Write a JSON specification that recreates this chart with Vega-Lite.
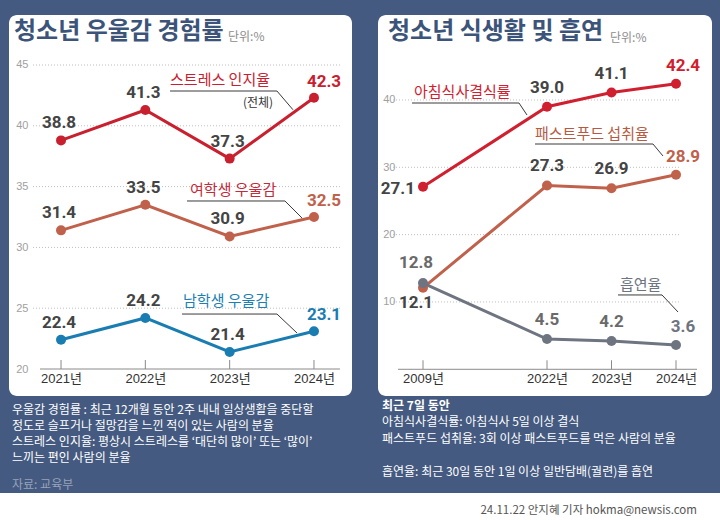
{
  "$schema": "https://vega.github.io/schema/vega-lite/v6.json",
  "background": "#455A80",
  "padding": {"left": 0, "top": 12, "right": 0, "bottom": 0},
  "config": {"view": {"stroke": null}, "font": "Noto Sans CJK KR", "concat": {"spacing": 0}},
  "datasets": {
    "dep": [
      {"series": "스트레스 인지율", "year": 2021, "value": 38.8},
      {"series": "스트레스 인지율", "year": 2022, "value": 41.3},
      {"series": "스트레스 인지율", "year": 2023, "value": 37.3},
      {"series": "스트레스 인지율", "year": 2024, "value": 42.3},
      {"series": "여학생 우울감", "year": 2021, "value": 31.4},
      {"series": "여학생 우울감", "year": 2022, "value": 33.5},
      {"series": "여학생 우울감", "year": 2023, "value": 30.9},
      {"series": "여학생 우울감", "year": 2024, "value": 32.5},
      {"series": "남학생 우울감", "year": 2021, "value": 22.4},
      {"series": "남학생 우울감", "year": 2022, "value": 24.2},
      {"series": "남학생 우울감", "year": 2023, "value": 21.4},
      {"series": "남학생 우울감", "year": 2024, "value": 23.1}
    ],
    "depAnn": [
      {"kind": "series", "series": "스트레스 인지율", "txt": "스트레스 인지율", "ax": 2022.293, "ay": 43.77},
      {"kind": "series", "series": "여학생 우울감", "txt": "여학생 우울감", "ax": 2022.53, "ay": 34.72},
      {"kind": "series", "series": "남학생 우울감", "txt": "남학생 우울감", "ax": 2022.447, "ay": 25.59},
      {"kind": "sub", "series": "스트레스 인지율", "txt": "(전체)", "ax": 2023.158, "ay": 41.875},
      {"kind": "unit", "series": "", "txt": "단위:%", "ax": 2022.98, "ay": 47.3}
    ],
    "depLead": [
      {"series": "스트레스 인지율", "seq": 1, "ax": 2022.293, "ay": 42.86},
      {"series": "스트레스 인지율", "seq": 2, "ax": 2023.561, "ay": 42.86},
      {"series": "스트레스 인지율", "seq": 3, "ax": 2023.751, "ay": 41.32},
      {"series": "여학생 우울감", "seq": 1, "ax": 2022.494, "ay": 33.816},
      {"series": "여학생 우울감", "seq": 2, "ax": 2023.656, "ay": 33.816},
      {"series": "여학생 우울감", "seq": 3, "ax": 2023.858, "ay": 32.418},
      {"series": "남학생 우울감", "seq": 1, "ax": 2022.435, "ay": 24.52},
      {"series": "남학생 우울감", "seq": 2, "ax": 2023.561, "ay": 24.52},
      {"series": "남학생 우울감", "seq": 3, "ax": 2023.799, "ay": 22.96}
    ],
    "diet": [
      {"series": "아침식사결식률", "year": 2009, "value": 27.1},
      {"series": "아침식사결식률", "year": 2022, "value": 39.0},
      {"series": "아침식사결식률", "year": 2023, "value": 41.1},
      {"series": "아침식사결식률", "year": 2024, "value": 42.4},
      {"series": "패스트푸드 섭취율", "year": 2009, "value": 12.1},
      {"series": "패스트푸드 섭취율", "year": 2022, "value": 27.3},
      {"series": "패스트푸드 섭취율", "year": 2023, "value": 26.9},
      {"series": "패스트푸드 섭취율", "year": 2024, "value": 28.9},
      {"series": "흡연율", "year": 2009, "value": 12.8},
      {"series": "흡연율", "year": 2022, "value": 4.5},
      {"series": "흡연율", "year": 2023, "value": 4.2},
      {"series": "흡연율", "year": 2024, "value": 3.6}
    ],
    "dietAnn": [
      {"kind": "series", "series": "아침식사결식률", "txt": "아침식사결식률", "ax": 2008.056, "ay": 41.18},
      {"kind": "series", "series": "패스트푸드 섭취율", "txt": "패스트푸드 섭취율", "ax": 2020.742, "ay": 34.95},
      {"kind": "series", "series": "흡연율", "txt": "흡연율", "ax": 2023.132, "ay": 12.59},
      {"kind": "unit", "series": "", "txt": "단위:%", "ax": 2022.977, "ay": 49.2}
    ],
    "dietLead": [
      {"series": "아침식사결식률", "seq": 1, "ax": 2007.846, "ay": 39.55},
      {"series": "아침식사결식률", "seq": 2, "ax": 2019.064, "ay": 39.55},
      {"series": "아침식사결식률", "seq": 3, "ax": 2019.903, "ay": 37.77},
      {"series": "패스트푸드 섭취율", "seq": 1, "ax": 2020.742, "ay": 33.46},
      {"series": "패스트푸드 섭취율", "seq": 2, "ax": 2023.643, "ay": 33.46},
      {"series": "패스트푸드 섭취율", "seq": 3, "ax": 2023.798, "ay": 31.68},
      {"series": "흡연율", "seq": 1, "ax": 2023.101, "ay": 11.04},
      {"series": "흡연율", "seq": 2, "ax": 2023.783, "ay": 11.04},
      {"series": "흡연율", "seq": 3, "ax": 2024.031, "ay": 8.51}
    ],
    "notesL": [
      {"line": 1, "kind": "body", "txt": "우울감 경험률 : 최근 12개월 동안 2주 내내 일상생활을 중단할"},
      {"line": 2, "kind": "body", "txt": "정도로 슬프거나 절망감을 느낀 적이 있는 사람의 분율"},
      {"line": 3, "kind": "body", "txt": "스트레스 인지율: 평상시 스트레스를 ‘대단히 많이’ 또는 ‘많이’"},
      {"line": 4, "kind": "body", "txt": "느끼는 편인 사람의 분율"},
      {"line": 5.7, "kind": "source", "txt": "자료: 교육부"}
    ],
    "notesR": [
      {"line": 1, "kind": "head", "txt": "최근 7일 동안"},
      {"line": 2, "kind": "body", "txt": "아침식사결식률: 아침식사 5일 이상 결식"},
      {"line": 3, "kind": "body", "txt": "패스트푸드 섭취율: 3회 이상 패스트푸드를 먹은 사람의 분율"},
      {"line": 5, "kind": "body", "txt": "흡연율: 최근 30일 동안 1일 이상 일반담배(궐련)를 흡연"}
    ]
  },
  "spacing": 0,
  "vconcat": [
    {
      "spacing": 0,
      "bounds": "flush",
      "hconcat": [
        {"width": 9, "height": 1, "data": {"values": [{}]}, "mark": {"type": "point", "opacity": 0}},
        {
          "width": 343,
          "height": 381,
          "view": {"fill": "white", "stroke": null, "cornerRadius": 8},
          "title": {"text": "청소년 우울감 경험률", "anchor": "start", "frame": "group", "offset": -29, "dx": 5, "fontSize": 24, "fontWeight": "bold", "color": "#3C5479", "font": "Noto Sans CJK KR"},
          "layer": [
            {
              "data": {"values": [{"tick": 25}, {"tick": 30}, {"tick": 35}, {"tick": 40}, {"tick": 45}]},
              "mark": {"type": "rule", "color": "#BDBDBD", "strokeWidth": 1, "strokeDash": [1, 2]},
              "encoding": {
                "y": {"field": "tick", "type": "quantitative", "scale": {"domain": [17.78, 49.11], "nice": false, "zero": false}},
                "x": {"datum": 2020.668, "type": "quantitative", "scale": {"domain": [2020.383, 2024.451], "nice": false, "zero": false}},
                "x2": {"datum": 2024.308}
              }
            },
            {
              "data": {"values": [{"tick": 20}]},
              "mark": {"type": "rule", "color": "#8A8A8A", "strokeWidth": 1},
              "encoding": {
                "y": {"field": "tick", "type": "quantitative", "scale": {"domain": [17.78, 49.11], "nice": false, "zero": false}},
                "x": {"datum": 2020.751, "type": "quantitative", "scale": {"domain": [2020.383, 2024.451], "nice": false, "zero": false}},
                "x2": {"datum": 2024.308}
              }
            },
            {
              "data": {"values": [{"year": 2021}, {"year": 2022}, {"year": 2023}, {"year": 2024}]},
              "mark": {"type": "rule", "color": "#8A8A8A", "strokeWidth": 1},
              "encoding": {
                "x": {"field": "year", "type": "quantitative", "scale": {"domain": [2020.383, 2024.451], "nice": false, "zero": false}},
                "y": {"datum": 20, "type": "quantitative", "scale": {"domain": [17.78, 49.11], "nice": false, "zero": false}},
                "y2": {"datum": 20.74}
              }
            },
            {
              "data": {"name": "depLead"},
              "mark": {"type": "line", "color": "#3A3A3A", "strokeWidth": 1},
              "encoding": {
                "x": {"field": "ax", "type": "quantitative", "scale": {"domain": [2020.383, 2024.451], "nice": false, "zero": false}},
                "y": {"field": "ay", "type": "quantitative", "scale": {"domain": [17.78, 49.11], "nice": false, "zero": false}},
                "detail": {"field": "series"},
                "order": {"field": "seq"}
              }
            },
            {
              "data": {"name": "dep"},
              "mark": {"type": "line", "strokeWidth": 3},
              "encoding": {
                "x": {"field": "year", "type": "quantitative", "scale": {"domain": [2020.383, 2024.451], "nice": false, "zero": false},
                  "axis": {"values": [2021, 2022, 2023, 2024], "labelExpr": "datum.value + '년'", "offset": -27, "domain": false, "ticks": false, "grid": false, "labelPadding": 3, "labelFontSize": 13, "labelColor": "#333333", "labelFont": "Liberation Sans, Noto Sans CJK KR", "labelFlush": false, "labelOverlap": false, "title": null}},
                "y": {"field": "value", "type": "quantitative", "scale": {"domain": [17.78, 49.11], "nice": false, "zero": false},
                  "axis": {"values": [20, 25, 30, 35, 40, 45], "offset": -21, "domain": false, "ticks": false, "grid": false, "labelPadding": 2, "labelFontSize": 11, "labelColor": "#A0A0A0", "labelFont": "Liberation Sans", "labelFlush": false, "labelOverlap": false, "title": null}},
                "color": {"field": "series", "type": "nominal", "scale": {"domain": ["스트레스 인지율", "여학생 우울감", "남학생 우울감", "아침식사결식률", "패스트푸드 섭취율", "흡연율"], "range": ["#C8202F", "#C0614B", "#1A7DB2", "#D02030", "#C0614B", "#6E7480"]}, "legend": null}
              }
            },
            {
              "data": {"name": "dep"},
              "mark": {"type": "circle", "size": 100, "opacity": 1},
              "encoding": {
                "x": {"field": "year", "type": "quantitative", "scale": {"domain": [2020.383, 2024.451], "nice": false, "zero": false}},
                "y": {"field": "value", "type": "quantitative", "scale": {"domain": [17.78, 49.11], "nice": false, "zero": false}},
                "color": {"field": "series", "type": "nominal", "scale": {"domain": ["스트레스 인지율", "여학생 우울감", "남학생 우울감", "아침식사결식률", "패스트푸드 섭취율", "흡연율"], "range": ["#C8202F", "#C0614B", "#1A7DB2", "#D02030", "#C0614B", "#6E7480"]}, "legend": null}
              }
            },
            {
              "data": {"name": "dep"},
              "transform": [{"filter": "datum.year < 2024"}],
              "mark": {"type": "text", "dx": -2, "dy": -17, "fontSize": 17, "fontWeight": "bold", "font": "Roboto", "color": "#444444", "baseline": "middle"},
              "encoding": {
                "x": {"field": "year", "type": "quantitative", "scale": {"domain": [2020.383, 2024.451], "nice": false, "zero": false}},
                "y": {"field": "value", "type": "quantitative", "scale": {"domain": [17.78, 49.11], "nice": false, "zero": false}},
                "text": {"field": "value", "type": "quantitative", "format": ".1f"}
              }
            },
            {
              "data": {"name": "dep"},
              "transform": [{"filter": "datum.year == 2024"}],
              "mark": {"type": "text", "dx": 10, "dy": -16, "fontSize": 17, "fontWeight": "bold", "font": "Roboto", "baseline": "middle"},
              "encoding": {
                "x": {"field": "year", "type": "quantitative", "scale": {"domain": [2020.383, 2024.451], "nice": false, "zero": false}},
                "y": {"field": "value", "type": "quantitative", "scale": {"domain": [17.78, 49.11], "nice": false, "zero": false}},
                "text": {"field": "value", "type": "quantitative", "format": ".1f"},
                "color": {"field": "series", "type": "nominal", "scale": {"domain": ["스트레스 인지율", "여학생 우울감", "남학생 우울감", "아침식사결식률", "패스트푸드 섭취율", "흡연율"], "range": ["#C8202F", "#C0614B", "#1A7DB2", "#D02030", "#C0614B", "#6E7480"]}, "legend": null}
              }
            },
            {
              "data": {"name": "depAnn"},
              "transform": [{"filter": "datum.kind == 'series'"}],
              "mark": {"type": "text", "align": "left", "baseline": "middle", "fontSize": 15, "font": "Noto Sans CJK KR"},
              "encoding": {
                "x": {"field": "ax", "type": "quantitative", "scale": {"domain": [2020.383, 2024.451], "nice": false, "zero": false}},
                "y": {"field": "ay", "type": "quantitative", "scale": {"domain": [17.78, 49.11], "nice": false, "zero": false}},
                "text": {"field": "txt"},
                "fill": {"field": "series", "type": "nominal", "scale": {"domain": ["스트레스 인지율", "여학생 우울감", "남학생 우울감", "아침식사결식률", "패스트푸드 섭취율", "흡연율"], "range": ["#C8202F", "#C32A3C", "#1C80B4", "#D22030", "#B65A42", "#6E7480"]}, "legend": null}
              }
            },
            {
              "data": {"name": "depAnn"},
              "transform": [{"filter": "datum.kind != 'series'"}],
              "mark": {"type": "text", "align": "left", "baseline": "middle", "fontSize": 12, "font": "Noto Sans CJK KR"},
              "encoding": {
                "x": {"field": "ax", "type": "quantitative", "scale": {"domain": [2020.383, 2024.451], "nice": false, "zero": false}},
                "y": {"field": "ay", "type": "quantitative", "scale": {"domain": [17.78, 49.11], "nice": false, "zero": false}},
                "text": {"field": "txt"},
                "color": {"condition": {"test": "datum.kind == 'unit'", "value": "#8C8C8C"}, "value": "#333333"}
              }
            }
          ]
        },
        {"width": 26, "height": 1, "data": {"values": [{}]}, "mark": {"type": "point", "opacity": 0}},
        {
          "width": 334,
          "height": 381,
          "view": {"fill": "white", "stroke": null, "cornerRadius": 8},
          "title": {"text": "청소년 식생활 및 흡연", "anchor": "start", "frame": "group", "offset": -29, "dx": 10, "fontSize": 24, "fontWeight": "bold", "color": "#3C5479", "font": "Noto Sans CJK KR"},
          "layer": [
            {
              "data": {"values": [{"tick": 10}, {"tick": 20}, {"tick": 30}, {"tick": 40}]},
              "mark": {"type": "rule", "color": "#BDBDBD", "strokeWidth": 1, "strokeDash": [1, 2]},
              "encoding": {
                "y": {"field": "tick", "type": "quantitative", "scale": {"domain": [-3.966, 52.62], "nice": false, "zero": false}},
                "x": {"datum": 2005.854, "type": "quantitative", "scale": {"domain": [2004.282, 2022, 2024.558], "range": [0, 169, 334], "nice": false, "zero": false}},
                "x2": {"datum": 2024.062}
              }
            },
            {
              "data": {"values": [{"tick": 0}]},
              "mark": {"type": "rule", "color": "#8A8A8A", "strokeWidth": 1},
              "encoding": {
                "y": {"field": "tick", "type": "quantitative", "scale": {"domain": [-3.966, 52.62], "nice": false, "zero": false}},
                "x": {"datum": 2006.378, "type": "quantitative", "scale": {"domain": [2004.282, 2022, 2024.558], "range": [0, 169, 334], "nice": false, "zero": false}},
                "x2": {"datum": 2024.326}
              }
            },
            {
              "data": {"values": [{"year": 2009}, {"year": 2022}, {"year": 2023}, {"year": 2024}]},
              "mark": {"type": "rule", "color": "#8A8A8A", "strokeWidth": 1},
              "encoding": {
                "x": {"field": "year", "type": "quantitative", "scale": {"domain": [2004.282, 2022, 2024.558], "range": [0, 169, 334], "nice": false, "zero": false}},
                "y": {"datum": 0, "type": "quantitative", "scale": {"domain": [-3.966, 52.62], "nice": false, "zero": false}},
                "y2": {"datum": 1.34}
              }
            },
            {
              "data": {"name": "dietLead"},
              "mark": {"type": "line", "color": "#3A3A3A", "strokeWidth": 1},
              "encoding": {
                "x": {"field": "ax", "type": "quantitative", "scale": {"domain": [2004.282, 2022, 2024.558], "range": [0, 169, 334], "nice": false, "zero": false}},
                "y": {"field": "ay", "type": "quantitative", "scale": {"domain": [-3.966, 52.62], "nice": false, "zero": false}},
                "detail": {"field": "series"},
                "order": {"field": "seq"}
              }
            },
            {
              "data": {"name": "diet"},
              "mark": {"type": "line", "strokeWidth": 3},
              "encoding": {
                "x": {"field": "year", "type": "quantitative", "scale": {"domain": [2004.282, 2022, 2024.558], "range": [0, 169, 334], "nice": false, "zero": false},
                  "axis": {"values": [2009, 2022, 2023, 2024], "labelExpr": "datum.value + '년'", "offset": -27, "domain": false, "ticks": false, "grid": false, "labelPadding": 3, "labelFontSize": 13, "labelColor": "#333333", "labelFont": "Liberation Sans, Noto Sans CJK KR", "labelFlush": false, "labelOverlap": false, "title": null}},
                "y": {"field": "value", "type": "quantitative", "scale": {"domain": [-3.966, 52.62], "nice": false, "zero": false},
                  "axis": {"values": [10, 20, 30, 40], "offset": -19, "domain": false, "ticks": false, "grid": false, "labelPadding": 2, "labelFontSize": 11, "labelColor": "#A0A0A0", "labelFont": "Liberation Sans", "labelFlush": false, "labelOverlap": false, "title": null}},
                "color": {"field": "series", "type": "nominal", "scale": {"domain": ["스트레스 인지율", "여학생 우울감", "남학생 우울감", "아침식사결식률", "패스트푸드 섭취율", "흡연율"], "range": ["#C8202F", "#C0614B", "#1A7DB2", "#D02030", "#C0614B", "#6E7480"]}, "legend": null}
              }
            },
            {
              "data": {"name": "diet"},
              "mark": {"type": "circle", "size": 100, "opacity": 1},
              "encoding": {
                "x": {"field": "year", "type": "quantitative", "scale": {"domain": [2004.282, 2022, 2024.558], "range": [0, 169, 334], "nice": false, "zero": false}},
                "y": {"field": "value", "type": "quantitative", "scale": {"domain": [-3.966, 52.62], "nice": false, "zero": false}},
                "color": {"field": "series", "type": "nominal", "scale": {"domain": ["스트레스 인지율", "여학생 우울감", "남학생 우울감", "아침식사결식률", "패스트푸드 섭취율", "흡연율"], "range": ["#C8202F", "#C0614B", "#1A7DB2", "#D02030", "#C0614B", "#6E7480"]}, "legend": null}
              }
            },
            {
              "data": {"name": "diet"},
              "transform": [{"filter": "datum.year == 2022 || datum.year == 2023"}],
              "mark": {"type": "text", "dy": -19, "fontSize": 17, "fontWeight": "bold", "font": "Roboto", "baseline": "middle"},
              "encoding": {
                "x": {"field": "year", "type": "quantitative", "scale": {"domain": [2004.282, 2022, 2024.558], "range": [0, 169, 334], "nice": false, "zero": false}},
                "y": {"field": "value", "type": "quantitative", "scale": {"domain": [-3.966, 52.62], "nice": false, "zero": false}},
                "text": {"field": "value", "type": "quantitative", "format": ".1f"},
                "color": {"condition": {"test": "datum.series == '흡연율'", "value": "#6A6A6A"}, "value": "#444444"}
              }
            },
            {
              "data": {"name": "diet"},
              "transform": [{"filter": "datum.year == 2024"}],
              "mark": {"type": "text", "dx": 7, "dy": -18, "fontSize": 17, "fontWeight": "bold", "font": "Roboto", "baseline": "middle"},
              "encoding": {
                "x": {"field": "year", "type": "quantitative", "scale": {"domain": [2004.282, 2022, 2024.558], "range": [0, 169, 334], "nice": false, "zero": false}},
                "y": {"field": "value", "type": "quantitative", "scale": {"domain": [-3.966, 52.62], "nice": false, "zero": false}},
                "text": {"field": "value", "type": "quantitative", "format": ".1f"},
                "color": {"field": "series", "type": "nominal", "scale": {"domain": ["스트레스 인지율", "여학생 우울감", "남학생 우울감", "아침식사결식률", "패스트푸드 섭취율", "흡연율"], "range": ["#C8202F", "#C0614B", "#1A7DB2", "#D02030", "#C0614B", "#6E7480"]}, "legend": null}
              }
            },
            {
              "data": {"name": "diet"},
              "transform": [{"filter": "datum.year == 2009 && datum.series == '아침식사결식률'"}],
              "mark": {"type": "text", "align": "right", "dx": -8, "dy": 2, "fontSize": 17, "fontWeight": "bold", "font": "Roboto", "baseline": "middle", "color": "#444444"},
              "encoding": {
                "x": {"field": "year", "type": "quantitative", "scale": {"domain": [2004.282, 2022, 2024.558], "range": [0, 169, 334], "nice": false, "zero": false}},
                "y": {"field": "value", "type": "quantitative", "scale": {"domain": [-3.966, 52.62], "nice": false, "zero": false}},
                "text": {"field": "value", "type": "quantitative", "format": ".1f"}
              }
            },
            {
              "data": {"name": "diet"},
              "transform": [{"filter": "datum.year == 2009 && datum.series == '패스트푸드 섭취율'"}],
              "mark": {"type": "text", "dx": -7, "dy": 15, "fontSize": 17, "fontWeight": "bold", "font": "Roboto", "baseline": "middle", "color": "#444444"},
              "encoding": {
                "x": {"field": "year", "type": "quantitative", "scale": {"domain": [2004.282, 2022, 2024.558], "range": [0, 169, 334], "nice": false, "zero": false}},
                "y": {"field": "value", "type": "quantitative", "scale": {"domain": [-3.966, 52.62], "nice": false, "zero": false}},
                "text": {"field": "value", "type": "quantitative", "format": ".1f"}
              }
            },
            {
              "data": {"name": "diet"},
              "transform": [{"filter": "datum.year == 2009 && datum.series == '흡연율'"}],
              "mark": {"type": "text", "dx": -7, "dy": -20, "fontSize": 17, "fontWeight": "bold", "font": "Roboto", "baseline": "middle", "color": "#6A6A6A"},
              "encoding": {
                "x": {"field": "year", "type": "quantitative", "scale": {"domain": [2004.282, 2022, 2024.558], "range": [0, 169, 334], "nice": false, "zero": false}},
                "y": {"field": "value", "type": "quantitative", "scale": {"domain": [-3.966, 52.62], "nice": false, "zero": false}},
                "text": {"field": "value", "type": "quantitative", "format": ".1f"}
              }
            },
            {
              "data": {"name": "dietAnn"},
              "transform": [{"filter": "datum.kind == 'series'"}],
              "mark": {"type": "text", "align": "left", "baseline": "middle", "fontSize": 15, "font": "Noto Sans CJK KR"},
              "encoding": {
                "x": {"field": "ax", "type": "quantitative", "scale": {"domain": [2004.282, 2022, 2024.558], "range": [0, 169, 334], "nice": false, "zero": false}},
                "y": {"field": "ay", "type": "quantitative", "scale": {"domain": [-3.966, 52.62], "nice": false, "zero": false}},
                "text": {"field": "txt"},
                "fill": {"field": "series", "type": "nominal", "scale": {"domain": ["스트레스 인지율", "여학생 우울감", "남학생 우울감", "아침식사결식률", "패스트푸드 섭취율", "흡연율"], "range": ["#C8202F", "#C32A3C", "#1C80B4", "#D22030", "#B65A42", "#6E7480"]}, "legend": null}
              }
            },
            {
              "data": {"name": "dietAnn"},
              "transform": [{"filter": "datum.kind == 'unit'"}],
              "mark": {"type": "text", "align": "left", "baseline": "middle", "fontSize": 12, "font": "Noto Sans CJK KR", "color": "#8C8C8C"},
              "encoding": {
                "x": {"field": "ax", "type": "quantitative", "scale": {"domain": [2004.282, 2022, 2024.558], "range": [0, 169, 334], "nice": false, "zero": false}},
                "y": {"field": "ay", "type": "quantitative", "scale": {"domain": [-3.966, 52.62], "nice": false, "zero": false}},
                "text": {"field": "txt"}
              }
            }
          ]
        }
      ]
    },
    {
      "spacing": 0,
      "bounds": "flush",
      "hconcat": [
        {"width": 12, "height": 97, "data": {"values": [{}]}, "mark": {"type": "point", "opacity": 0}},
        {
          "width": 370,
          "height": 97,
          "data": {"name": "notesL"},
          "mark": {"type": "text", "align": "left", "baseline": "middle", "fontSize": 12, "font": "Noto Sans CJK KR"},
          "encoding": {
            "x": {"datum": 0, "type": "quantitative", "scale": {"domain": [0, 1], "nice": false, "zero": false}, "axis": null},
            "y": {"field": "line", "type": "quantitative", "scale": {"domain": [0.125, 6.1875], "reverse": true, "nice": false, "zero": false}, "axis": null},
            "text": {"field": "txt"},
            "color": {"condition": {"test": "datum.kind == 'source'", "value": "#97A3BB"}, "value": "#FFFFFF"}
          }
        },
        {
          "width": 338,
          "height": 97,
          "layer": [
            {
              "data": {"name": "notesR"},
              "transform": [{"filter": "datum.kind == 'head'"}],
              "mark": {"type": "text", "align": "left", "baseline": "middle", "fontSize": 12, "fontWeight": "bold", "font": "Noto Sans CJK KR", "color": "#FFFFFF"},
              "encoding": {
                "x": {"datum": 0, "type": "quantitative", "scale": {"domain": [0, 1], "nice": false, "zero": false}, "axis": null},
                "y": {"field": "line", "type": "quantitative", "scale": {"domain": [0.394, 6.273], "reverse": true, "nice": false, "zero": false}, "axis": null},
                "text": {"field": "txt"}
              }
            },
            {
              "data": {"name": "notesR"},
              "transform": [{"filter": "datum.kind != 'head'"}],
              "mark": {"type": "text", "align": "left", "baseline": "middle", "fontSize": 12, "font": "Noto Sans CJK KR", "color": "#FFFFFF"},
              "encoding": {
                "x": {"datum": 0, "type": "quantitative", "scale": {"domain": [0, 1], "nice": false, "zero": false}, "axis": null},
                "y": {"field": "line", "type": "quantitative", "scale": {"domain": [0.394, 6.273], "reverse": true, "nice": false, "zero": false}, "axis": null},
                "text": {"field": "txt"}
              }
            }
          ]
        }
      ]
    },
    {
      "width": 720,
      "height": 30,
      "view": {"fill": "white", "stroke": null},
      "data": {"values": [{"txt": "24.11.22 안지혜 기자 hokma@newsis.com"}]},
      "mark": {"type": "text", "align": "right", "baseline": "middle", "dy": 3, "fontSize": 11.5, "font": "Noto Sans CJK KR", "color": "#555555"},
      "encoding": {
        "x": {"datum": 0.968, "type": "quantitative", "scale": {"domain": [0, 1], "nice": false, "zero": false}, "axis": null},
        "text": {"field": "txt"}
      }
    }
  ]
}
